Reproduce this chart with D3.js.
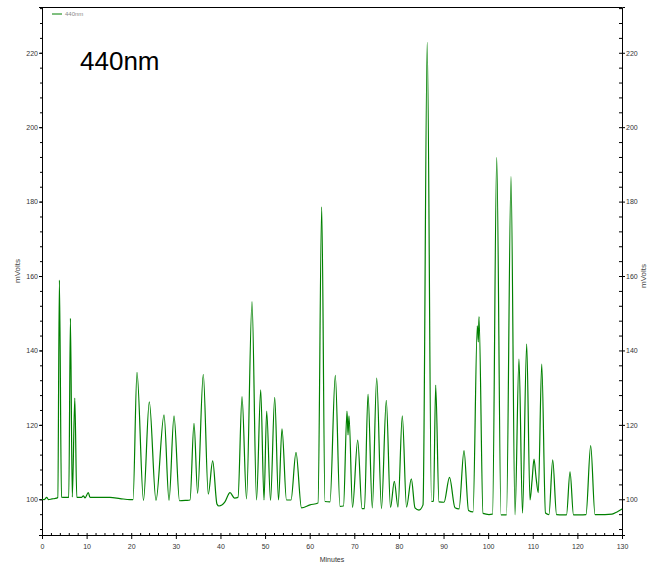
<!DOCTYPE html>
<html><head><meta charset="utf-8">
<script src="https://cdn.jsdelivr.net/npm/d3@7"></script>
<style>
body{margin:0;background:#fff}
svg{display:block}
text{font-family:"Liberation Sans",Arial,sans-serif}
</style>
</head><body>
<svg id="c" width="654" height="564"></svg>
<script>
// Chromatogram trace at 440nm: retention time (minutes) and signal (mVolts)
const times = [
  0, 0.45, 1.05, 1.46, 2.24, 2.91, 3.54, 3.90, 4.37, 5.16, 6.00, 6.37, 6.79, 7.35, 7.80,
  8.85, 9.26, 9.64, 10.38, 10.76, 13.0, 15.24, 17.48, 19.72,
  20.40, 21.29, 22.75, 24.05, 25.55, 27.35, 28.47, 29.59, 30.82, 32.28, 33.17, 34.07, 34.88,
  36.15, 37.27, 38.26, 39.22, 39.67, 41.0, 42.14, 43.15, 43.93,
  44.83, 45.84, 47.07, 48.08, 49.02, 49.76, 50.36, 51.22, 52.16, 53.01, 53.79, 54.80, 55.81,
  56.93, 58.16, 60.07, 61.86, 62.69, 63.43, 64.55, 65.74, 66.79, 67.58,
  68.36, 68.59, 68.81, 69.60, 70.76, 71.73, 72.28, 73.07, 74.03, 75.02, 76.09, 77.17, 78.11,
  78.97, 79.79, 80.76, 81.70, 82.78, 83.60, 84.50, 85.40, 86.34, 87.30, 87.75, 88.24, 88.98,
  90.10, 91.34, 92.57, 93.47, 94.59, 95.60, 96.61, 97.57, 97.79, 97.95, 98.85, 100.19, 100.98,
  101.92, 102.88, 104.11, 105.12, 106.02, 106.91, 107.70, 108.64, 109.38, 109.85, 110.28, 110.75,
  111.24, 112.01, 112.85, 113.63, 114.47, 115.33, 116.78, 117.56, 118.35, 119.13, 120.59,
  121.93, 122.98, 123.95, 126.19, 127.76, 128.88, 130
];
const mvolts = [
  100.1, 99.9, 100.5, 99.9, 100.1, 100.2, 100.5, 158.9, 100.6, 100.5, 100.5, 148.6, 100.6, 127.2, 100.5,
  100.5, 100.9, 100.4, 101.8, 100.5, 100.5, 100.5, 100.2, 99.9,
  99.9, 134.1, 99.7, 126.2, 99.7, 122.7, 99.7, 122.4, 99.6, 99.7, 99.8, 120.4, 101.6,
  133.6, 101.4, 110.3, 98.7, 98.2, 99.3, 101.8, 100.3, 100.5,
  127.6, 100.1, 153.1, 99.8, 129.4, 99.8, 123.7, 99.7, 127.4, 99.8, 118.9, 99.8, 99.8,
  112.6, 97.7, 98.5, 99.0, 178.6, 99.4, 99.3, 133.3, 98.1, 98.2,
  123.7, 117.3, 122.4, 97.8, 115.9, 97.5, 97.5, 128.3, 97.7, 132.6, 97.5, 126.6, 97.8,
  104.8, 97.9, 122.4, 97.9, 105.5, 97.7, 97.1, 98.5, 222.8, 99.4, 99.5, 130.7, 99.3,
  99.2, 105.9, 97.7, 97.4, 113.1, 97.0, 96.6, 146.6, 142.3, 149.1, 96.2, 95.9, 96.0,
  191.9, 95.8, 95.8, 186.7, 95.8, 137.7, 96.3, 141.7, 99.8, 105.2, 110.8, 105.7,
  101.8, 136.3, 96.3, 95.9, 110.6, 95.9, 95.8, 95.8, 107.4, 95.8, 95.8,
  95.9, 114.4, 95.9, 95.9, 96.0, 96.6, 97.4
];
const xTickValues = [0,10,20,30,40,50,60,70,80,90,100,110,120,130];
const yTickValues = [100,120,140,160,180,200,220];
const seriesName = "440nm";
const chartLabel = "440nm";
const xTitle = "Minutes";
const yTitle = "mVolts";

const svg = d3.select("#c");
const L = 42, R = 622, T = 7, B = 535;
const x = d3.scaleLinear().domain([0,130]).range([L,R]);
const y = d3.scaleLinear().domain([90.4,232.3]).range([B,T]);

// frame top line
svg.append("line").attr("x1",L).attr("x2",R).attr("y1",T+0.5).attr("y2",T+0.5)
  .attr("stroke","#000").attr("stroke-width",1);

const fmt = d3.format("d");
function styleAxis(g){
  g.select(".domain").attr("stroke","#000");
  g.selectAll(".tick line").attr("stroke","#000");
  g.selectAll("text").attr("font-size","7px").attr("fill","#333").style("font-family","'Liberation Sans',Arial,sans-serif");
}
// bottom axis
const gx = svg.append("g").attr("transform",`translate(0,${B})`)
  .call(d3.axisBottom(x).tickValues(xTickValues).tickSize(4).tickPadding(5).tickFormat(fmt));
styleAxis(gx);
svg.append("g").attr("transform",`translate(0,${B})`)
  .call(d3.axisTop(x).tickValues(d3.range(0,131,2)).tickSize(2).tickFormat(""))
  .call(g=>{g.select(".domain").remove(); g.selectAll(".tick line").attr("stroke","#000");});

// left axis
const gl = svg.append("g").attr("transform",`translate(${L},0)`)
  .call(d3.axisLeft(y).tickValues(yTickValues).tickSize(3).tickPadding(1).tickFormat(fmt));
styleAxis(gl);
svg.append("g").attr("transform",`translate(${L},0)`)
  .call(d3.axisLeft(y).tickValues(d3.range(92,233,4)).tickSize(2).tickFormat(""))
  .call(g=>{g.select(".domain").remove(); g.selectAll(".tick line").attr("stroke","#000");});

// right axis
const gr = svg.append("g").attr("transform",`translate(${R},0)`)
  .call(d3.axisRight(y).tickValues(yTickValues).tickSize(3).tickPadding(1).tickFormat(fmt));
styleAxis(gr);
svg.append("g").attr("transform",`translate(${R},0)`)
  .call(d3.axisLeft(y).tickValues(d3.range(92,233,4)).tickSize(3).tickFormat(""))
  .call(g=>{g.select(".domain").remove(); g.selectAll(".tick line").attr("stroke","#000");});

// axis titles
svg.append("text").attr("x",(L+R)/2).attr("y",562).attr("text-anchor","middle")
  .attr("font-size","7px").attr("fill","#333").text(xTitle);
svg.append("text").attr("transform","translate(20,271) rotate(-90)").attr("text-anchor","middle")
  .attr("font-size","8px").attr("fill","#444").text(yTitle);
svg.append("text").attr("transform","translate(646,276) rotate(-90)").attr("text-anchor","middle")
  .attr("font-size","8px").attr("fill","#444").text(yTitle);

// trace
const pts = times.map((t,i)=>[t,mvolts[i]]);
const line = d3.line().x(d=>x(d[0])).y(d=>y(d[1])).curve(d3.curveMonotoneX);
svg.append("path").datum(pts).attr("d",line).attr("fill","none")
  .attr("stroke","#008000").attr("stroke-width",1.2).attr("stroke-linejoin","round");

// legend
svg.append("line").attr("x1",52).attr("x2",62).attr("y1",14).attr("y2",14)
  .attr("stroke","#008000").attr("stroke-width",1);
svg.append("text").attr("x",65).attr("y",16).attr("font-size","6px").attr("fill","#888").text(seriesName);

// big label
svg.append("text").attr("x",80).attr("y",70).attr("font-size","26px").attr("fill","#000").text(chartLabel);
</script>
</body></html>
